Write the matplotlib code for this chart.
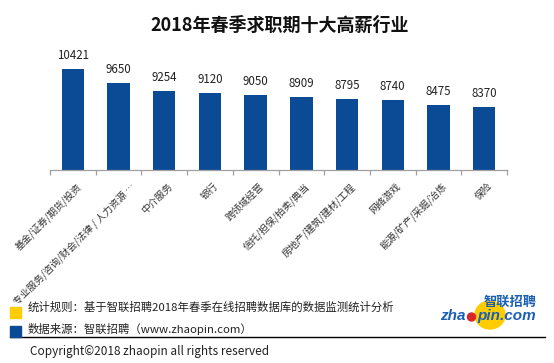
import matplotlib
matplotlib.use("Agg")
import matplotlib.pyplot as plt
import matplotlib.transforms as mtransforms
from matplotlib.patches import Rectangle, Ellipse
from matplotlib.lines import Line2D

plt.rcParams['font.family'] = ['Noto Sans CJK SC', 'DejaVu Sans']

title = "2018年春季求职期十大高薪行业"
categories = ["基金/证券/期货/投资", "专业服务/咨询/财会/法律 / 人力资源 …", "中介服务", "银行",
              "跨领域经营", "信托/担保/拍卖/典当", "房地产/建筑/建材/工程", "网络游戏",
              "能源/矿产/采掘/冶炼", "保险"]
salaries = [10421, 9650, 9254, 9120, 9050, 8909, 8795, 8740, 8475, 8370]
note_rule = "统计规则：基于智联招聘2018年春季在线招聘数据库的数据监测统计分析"
note_source = "数据来源：智联招聘（www.zhaopin.com）"
copyright_text = "Copyright©2018 zhaopin all rights reserved"

W, H = 554, 363
fig = plt.figure(figsize=(W / 100, H / 100), dpi=100)

def fx(px):
    return px / W

def fy(py):
    return 1 - py / H

blue = "#0B4A94"
yellow = "#FFCC00"
logo_blue = "#1B5FB5"

# axes: x 50..507, y 49..170
ax = fig.add_axes([fx(50), fy(170), fx(507) - fx(50), (170 - 49) / H])
x = list(range(len(categories)))
ax.bar(x, salaries, width=0.49, color=blue, zorder=2)
ax.set_ylim(5000, 11500)
ax.set_xlim(-0.5, len(categories) - 0.5)
for xi, v in zip(x, salaries):
    ax.annotate(str(v), (xi, v), xytext=(0, 5), textcoords="offset points",
                ha="center", va="bottom", fontsize=8.3, color="#222222")
for s in ["top", "right", "left"]:
    ax.spines[s].set_visible(False)
ax.spines["bottom"].set_color("#A0A0A0")
ax.spines["bottom"].set_linewidth(0.9)
ax.set_yticks([])
ax.set_xticks([i - 0.5 for i in range(len(categories) + 1)])
ax.set_xticklabels([])
ax.tick_params(axis="x", which="major", length=3.5, color="#A0A0A0", width=0.9)
ax.set_xticks(x, minor=True)
ax.set_xticklabels(categories, minor=True, rotation=45, ha="right",
                   rotation_mode="anchor", fontsize=7.0, color="#333333")
ax.tick_params(axis="x", which="minor", length=0, pad=8)
for i, lbl in enumerate(ax.get_xticklabels(minor=True)):
    dx = 11 if i == 1 else 3
    shift = mtransforms.ScaledTranslation(dx / 100, 0, fig.dpi_scale_trans)
    lbl.set_transform(lbl.get_transform() + shift)

fig.text(fx(280), fy(25), title, ha="center", va="center", fontsize=13,
         fontweight="bold", color="#111111")

# legend notes
fig.patches.append(Rectangle((fx(10), fy(318)), fx(11), 11 / H, transform=fig.transFigure,
                             color=yellow, zorder=3))
fig.patches.append(Rectangle((fx(10), fy(337)), fx(11), 11 / H, transform=fig.transFigure,
                             color=blue, zorder=3))
fig.text(fx(28), fy(307), note_rule, ha="left", va="center", fontsize=8.2, color="#222222")
fig.text(fx(28), fy(329), note_source, ha="left", va="center", fontsize=8.2, color="#222222")
fig.lines.append(Line2D([fx(10), fx(545)], [fy(336.5), fy(336.5)], transform=fig.transFigure,
                        color="black", linewidth=1.0))
fig.text(fx(30), fy(351), copyright_text, ha="left", va="center", fontsize=8.5, color="#222222")

# logo
fig.patches.append(Ellipse((fx(490), fy(315)), fx(30), 28 / H, transform=fig.transFigure,
                           color=yellow, zorder=3))
fig.text(fx(510), fy(302), "智联招聘", ha="center", va="center", fontsize=9.5,
         fontweight="bold", color=logo_blue, zorder=4)
fig.text(fx(466), fy(316), "zha", ha="right", va="center", fontsize=11,
         fontweight="bold", color=logo_blue, zorder=4, style="italic",
         family=["Liberation Sans"])
fig.text(fx(477), fy(316), "pin.com", ha="left", va="center", fontsize=11,
         fontweight="bold", color=logo_blue, zorder=4, style="italic",
         family=["Liberation Sans"])
fig.patches.append(Ellipse((fx(471.5), fy(317)), fx(8), 8 / H, transform=fig.transFigure,
                           color="#D9262B", zorder=5))

fig.savefig("out.png", dpi=100)
